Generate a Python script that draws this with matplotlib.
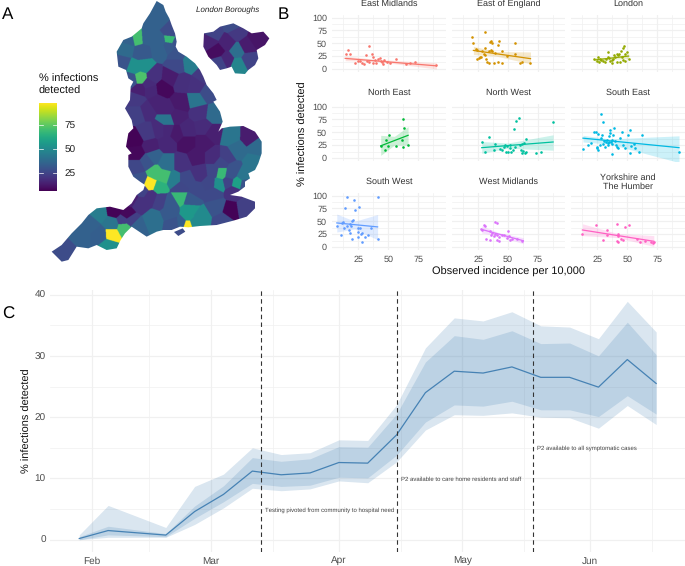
import datetime as dt

import matplotlib
matplotlib.use("Agg")
import matplotlib.pyplot as plt
import matplotlib.dates as mdates
import numpy as np
from matplotlib.patches import PathPatch
from matplotlib.path import Path

plt.rcParams["font.family"] = ["Liberation Sans", "DejaVu Sans"]
plt.rcParams["text.hinting"] = "none"
plt.rcParams["text.hinting_factor"] = 1

W, H = 685, 566

# ---- panel A, map shapes and area values
england_outline = [(470,3),(490,15),(497,35),(508,55),(515,75),(525,100),(530,125),(527,140),(535,155),(560,170),
    (585,190),(600,210),(610,230),(620,255),(640,280),(650,300),(640,305),(660,335),(668,365),(655,395),(665,385),
    (690,380),(730,378),(765,395),(785,425),(785,460),(775,490),(765,510),(745,520),(750,535),(735,545),(735,560),
    (715,575),(690,585),(725,590),(765,605),(765,625),(740,650),(700,662),(650,675),(600,678),(565,682),(540,680),
    (515,690),(490,690),(470,695),(440,710),(395,680),(375,700),(362,720),(350,745),(320,750),(290,735),(265,745),
    (230,740),(205,780),(185,785),(155,755),(185,735),(215,700),(245,670),(265,645),(290,625),(330,620),(370,630),
    (395,610),(410,585),(430,570),(435,555),(420,545),(400,530),(385,500),(385,465),(395,460),(378,440),(385,400),
    (400,385),(395,360),(375,325),(390,300),(392,260),(400,245),(385,235),(378,210),(355,200),(350,155),(370,120),
    (395,110),(425,85),(430,70),(450,40)]
wight_outline = [(522,696),(548,685),(556,695),(535,708)]
london_outline = [(612,100),(640,95),(660,80),(700,70),(730,85),(755,100),(790,95),(808,115),(795,135),(770,150),
    (775,175),(765,195),(745,210),(735,222),(705,220),(695,200),(680,205),(660,210),(650,195),(625,170),(610,140)]

area_points = [(470,60,35),(508,120,68),(510,100,28),(480,125,35),(530,130,30),(505,140,32),(412,112,70),(440,110,35),
    (385,118,35),(375,150,38),(365,190,30),(425,160,32),(480,150,35),
    (530,165,30),(570,190,45),(530,195,27),(405,205,52),(430,200,52),(420,235,72),(395,240,30),(445,255,18),(460,230,20),
    (510,235,14),(490,265,9),(450,270,17),(545,250,19),(590,260,20),(610,230,22),(620,280,28),(590,300,42),(410,300,22),
    (420,270,15),(470,310,16),(540,310,13),(500,360,42),(500,330,16),(500,390,17),(440,330,18),(410,340,24),(530,350,15),
    (560,390,17),(600,340,20),(640,345,38),(610,380,18),(530,400,13),(480,390,18),(440,400,22),(405,420,8),(410,460,9),
    (450,440,15),(500,430,17),(560,430,11),(610,430,13),(640,400,15),(690,410,42),(750,412,14),(770,440,38),(710,450,38),
    (760,490,42),(680,470,24),(640,470,18),(590,470,13),(545,490,20),(500,490,40),(460,470,35),(410,500,26),(440,485,30),
    (664,520,68),(640,515,26),(690,525,30),(664,490,26),(655,552,52),(630,550,26),(710,550,58),(735,555,30),(685,545,25),
    (730,525,42),(700,510,30),(600,520,20),(560,540,27),(490,530,70),(465,520,70),(450,552,97),(420,540,30),(425,572,25),
    (452,590,20),(478,562,65),(520,540,45),(590,570,27),(640,580,27),(700,575,20),(540,590,68),(510,608,32),(572,600,32),
    (540,565,26),(420,610,20),(480,600,24),(395,595,15),(345,632,8),(380,645,9),(295,640,45),(270,670,35),
    (390,660,24),(460,660,40),(510,640,32),(570,630,55),(600,650,50),(650,620,30),(690,632,8),(735,625,24),(670,660,27),
    (563,674,97),(582,668,50),(545,668,34),(563,650,55),(520,670,30),(410,680,35),(372,683,70),(370,660,24),(335,703,97),
    (335,672,42),(300,705,34),(325,737,52),(240,705,35),(195,750,28),(535,695,28),
    (630,125,16),(650,155,10),(680,130,16),(710,100,22),(770,120,12),(740,140,14),(712,155,40),(715,195,48),(745,180,25),
    (680,180,17),(660,190,25),(640,105,25),(700,80,28)]

colourbar_ticks = [25, 50, 75]

# ---- panel B, one pair of lists per region, plus the fitted line and its ribbon
regions = ["East Midlands", "East of England", "London", "North East", "North West", "South East",
           "South West", "West Midlands", "Yorkshire and\nThe Humber"]
region_colours = ["#F8766D", "#D39200", "#93AA00", "#00BA38", "#00C19F", "#00B9E3", "#619CFF", "#DB72FB", "#FF61C3"]

em_x = [14.4,16,18,22,24.5,26.4,27.8,30,31,32,34,36,37,37.5,39.4,41.7,43,44,44.4,45.3,46.4,51.4,56,64.7,68,72,90,34,48.6,39]
em_y = [28.6,37,30,12,16,16,11,10,27,15,13,28.6,24,11,11,19,21,16,13,9,17.5,12,19.5,10,12,14,7,45,14,17.5]
ee_x = [20,20.6,22.8,24,25.6,26.4,27.8,29.7,30.6,31,31.7,32.5,34,35,36,36.7,36,36.7,38,30.6,41.7,42.8,45,45,49,55.6,55.6,60,62,68.6,39.4,34,28.3,42,24]
ee_y = [63,51,38,37,21,24,23,28.6,41.6,27,19,14,12,53,55,50,37,34,12,71.4,47,55,35,12,25,50,28.6,11,14,11,30.5,34,34,14,19]
lo_x = [22.5,24.4,25.3,26.4,28,30,32,33.6,34,34.7,35.6,37,37.5,39,40,41,42.5,43.3,44.4,45.3,46.7,47.5,48,49.4,51.4,44,48,31.4,27,38,46,41]
lo_y = [19,15.6,24,14,17.5,15.6,19,24,33,21,16,17.5,11,27,23,14,27,29,34,24,41.6,45,28.6,32,19,14,15,14,19.5,19,17.5,29]
ne_x = [43.6,47.2,48,49.4,50.6,56,61.4,62,62.5,63,66.4]
ne_y = [23.5,15.7,35,24,45,24,35,22,76,58,25.5]
nw_x = [28.3,30.6,34.4,38.6,39.4,43.6,45,47.8,48.3,49.7,51.4,52.5,53.9,55.3,55.6,57.2,59.7,60.3,61,61.7,63,63.6,64.4,65.3,65,73.3,77.5,88,49,52,62,47]
nw_y = [31,12.4,40.5,15.7,28,17.6,15.7,25.5,12.4,12.4,19,11,15,56,22,72.5,77,25.5,15.7,27,13.7,29,9,37,12.4,10.5,11.8,69,23.5,25.5,9,22]
se_x = [13.3,17.5,19.7,22.2,23.6,24.4,25,25.3,25.8,27.2,27.8,29.4,28.6,30,30.8,31.4,32.8,33.6,34,35,35.6,35.6,36,37,37.5,38.3,39,39.7,40.3,41,42.5,45.3,46.7,48,50.8,52,52,53,55.8,56.4,59.7,62,93.3,37,32,35,28,44]
se_y = [17.6,25.5,29,51,50,22,19,46,15.7,25.5,86,70,45,27,32,22,35,29,25.5,42,55,48,31,7,35,45,58,32,25.5,22,19,50,25.5,19,45,55,10.5,24,27,19,12.4,44,11.8,27,31,31,38.5,38.5]
sw_x = [7.2,10.3,11.7,12.8,14,15.3,15.8,17.2,18,18.3,19,19.4,20,21.4,22,24.4,24.4,25,25.6,26.4,27.2,28.3,30.6,32.8,35.6,41,41,12.5,20.3,28.3]
sw_y = [40,23,47,36,75,97,41,32,28,45,40,16,51,92,71,37,20,28.6,77,37,26,9,19,24,37,97,15,48.7,53,27]
wm_x = [27.8,30,31,31.7,35.3,36,37,39.4,40.8,38,39.4,40.8,42.2,42.8,45,47,49,50,51,52,53.3,57.5,61.9,28.3,35.3,41]
wm_y = [34,43.5,41,16,14,23,27,48.7,47,21,26,24,19,12,24,24,17.5,30.5,21,14,16,16,12,32,30.5,14]
yh_x = [12.5,23.6,32.8,29.4,33.3,41,42,41,42.5,44.4,46.7,48,51.4,57.8,60.6,64.7,70,71.7,72,42]
yh_y = [25,43.5,33,14,24,45.5,21,11,10,16,14,39,43.5,15.6,10,12,10,8,9,25]
region_x = [em_x, ee_x, lo_x, ne_x, nw_x, se_x, sw_x, wm_x, yh_x]
region_y = [em_y, ee_y, lo_y, ne_y, nw_y, se_y, sw_y, wm_y, yh_y]

fit_x = [[14,40,90],[21,40,69],[23,37,51],[43.6,55,66.4],[28,50,88],[13,35,93],[7,22,41],[28,42,63],[12.5,42,72]]
fit_y = [[20.5,16.5,6],[36,29.5,20],[17.5,21,25],[23.5,33.5,44],[20,24,31],[38.5,32,20],[46.7,43,39],[34,25,12],[33,22,11]]
fit_lo = [[16,14.5,0],[28,25,10],[13,19,20],[5,25,25],[9,19,15],[31,27,-9],[29,35,14],[27,22,6],[22,18,1]]
fit_hi = [[25,18.5,12],[44,34,33],[22,23,30],[44,42,61],[32,29,45],[44,37,43],[64,50,63],[41,28,18],[45,26,22]]

# ---- panel C
week_dates = ["2020-01-29","2020-02-05","2020-02-19","2020-02-26","2020-03-04","2020-03-11","2020-03-18","2020-03-25",
              "2020-04-01","2020-04-08","2020-04-15","2020-04-22","2020-04-29","2020-05-06","2020-05-13","2020-05-20",
              "2020-05-27","2020-06-03","2020-06-10","2020-06-17"]
detected = [0.2,1.5,0.76,4.6,7.4,11.2,10.6,10.9,12.6,12.5,17.1,24,27.5,27.2,28.2,26.5,26.5,24.9,29.4,25.5]
inner_hi = [0.5,2.2,1,5.5,8.8,13.4,12.8,13.2,15.2,15.1,20.5,29,33.3,32.7,34.1,32,32.1,30,35.5,30.2]
inner_lo = [0,0.8,0.5,3.5,6.2,9.2,8.7,8.9,10.2,10.1,13.8,19.2,22,21.8,22.6,21.2,21.2,20.1,23.5,20.5]
outer_hi = [0.8,5.6,2,8.7,10.7,15,13.9,14.2,16.3,16.2,22,31.3,36.2,35.7,37.2,34.9,34.7,32.8,38.9,33.9]
outer_lo = [0,0.4,0.4,2.5,5.2,8.4,8,8.3,9.6,9.3,12.7,17.9,20.4,20.3,20.7,20,19.9,18.2,21.9,18.8]
event_dates = ["2020-03-13","2020-04-15","2020-05-18"]
event_labels = ["Testing pivoted from community to hospital need", "P2 available to care home residents and staff",
                "P2 available to all symptomatic cases"]
event_label_y = [4.8, 9.9, 14.9]
month_ticks = ["2020-02-01","2020-03-01","2020-04-01","2020-05-01","2020-06-01"]
month_labels = ["Feb","Mar","Apr","May","Jun"]
mid_month_ticks = ["2020-02-15","2020-03-16","2020-04-16","2020-05-16","2020-06-16"]


def day(s):
    return mdates.date2num(dt.date.fromisoformat(s))


def px_axes(left, top, right, bottom):
    # axes given in pixels of the reference, top left origin
    return fig.add_axes([left / W, 1 - bottom / H, (right - left) / W, (bottom - top) / H])


fig = plt.figure(figsize=(W / 100, H / 100), dpi=100)
TICK_COL = "#4D4D4D"
GRID = "#F0F0F0"

# ---- A map
ax = px_axes(0, 0, 270, 270)
ax.set_xlim(0, 810)
ax.set_ylim(810, 0)
ax.axis("off")
sx, sy, sv = [np.array(v, float) for v in zip(*area_points)]
gx, gy = np.meshgrid(np.arange(0, 810, 1.0), np.arange(0, 810, 1.0))
nearest = np.argmin((gx[..., None] - sx) ** 2 + (gy[..., None] - sy) ** 2, axis=2)
im = ax.imshow(sv[nearest], extent=(0, 810, 810, 0), cmap="viridis", vmin=7, vmax=97, interpolation="antialiased")
verts, codes = [], []
for shape in [england_outline, wight_outline, london_outline]:
    verts += shape + [shape[0]]
    codes += [Path.MOVETO] + [Path.LINETO] * (len(shape) - 1) + [Path.CLOSEPOLY]
outline = PathPatch(Path(verts, codes), fc="none", ec="none", transform=ax.transData)
ax.add_patch(outline)
im.set_clip_path(outline)
ax.set_xlim(0, 810)
ax.set_ylim(810, 0)
ax.text(682, 32, "London Boroughs", style="italic", fontsize=6, color="#222222", ha="center", va="center")

cax = px_axes(39, 103, 57, 191)
cax.imshow(np.linspace(97, 7, 256)[:, None], extent=(0, 1, 7, 97), aspect="auto", cmap="viridis", vmin=7, vmax=97)
cax.set_xticks([])
cax.set_yticks(colourbar_ticks)
cax.yaxis.tick_right()
cax.tick_params(axis="y", length=0, labelsize=7.2, pad=5.5, labelcolor="#222222")
for v in colourbar_ticks:
    cax.plot([0, 0.2], [v, v], color="white", lw=0.5)
    cax.plot([0.8, 1], [v, v], color="white", lw=0.5)
cax.set_xlim(0, 1)
for s in cax.spines.values():
    s.set_visible(False)
fig.text(39 / W, 1 - 74 / H, "% infections\ndetected", fontsize=8, va="top", ha="left", color="#111111", linespacing=1.2)

# ---- B facets
col_left = [332, 452, 571]
col_right = [446, 565, 685]
row_top = [15, 104, 193]
row_bottom = [72, 161, 250]
for i, name in enumerate(regions):
    r, c = i // 3, i % 3
    a = px_axes(col_left[c], row_top[r], col_right[c], row_bottom[r])
    a.set_xlim(3, 98)
    a.set_ylim(-6, 105)
    a.set_xticks([25, 50, 75])
    a.set_xticks([12.5, 37.5, 62.5, 87.5], minor=True)
    a.set_yticks([0, 25, 50, 75, 100])
    a.set_yticks([12.5, 37.5, 62.5, 87.5], minor=True)
    a.grid(which="major", color=GRID, lw=0.9)
    a.grid(which="minor", color=GRID, lw=0.5)
    a.set_axisbelow(True)
    a.tick_params(which="both", length=0, labelsize=6.5, labelcolor=TICK_COL, pad=4,
                  labelbottom=r == 2, labelleft=c == 0)
    a.tick_params(axis="y", pad=3.5)
    for s in a.spines.values():
        s.set_visible(False)
    col = region_colours[i]
    a.fill_between(fit_x[i], fit_lo[i], fit_hi[i], color=col, alpha=0.2, lw=0, clip_on=True)
    a.plot([fit_x[i][0], fit_x[i][-1]], [fit_y[i][0], fit_y[i][-1]], color=col, lw=0.9)
    a.scatter(region_x[i], region_y[i], s=3.5, color=col, lw=0, zorder=3)
    title_y = 1 + (11.2 if r else 11) / (row_bottom[r] - row_top[r])
    a.text(0.5, title_y, name, transform=a.transAxes, ha="center", va="center", fontsize=6.5,
           color="#333333", linespacing=1.15)

fig.text(508 / W, 1 - 272 / H, "Observed incidence per 10,000", fontsize=8.2, ha="center", va="center", color="#111111")
fig.text(303 / W, 1 - 134 / H, "% infections detected", fontsize=8.2, rotation=90, ha="center", va="center", color="#111111")

# ---- C time series
axc = px_axes(50, 290, 685, 552)
feb1 = day("2020-02-01")
axc.set_xlim(feb1 - 10.1, feb1 + 144)
axc.set_ylim(-2, 40.75)
t = [day(d) for d in week_dates]
axc.fill_between(t, outer_lo, outer_hi, color="#4682B4", alpha=0.2, lw=0)
axc.fill_between(t, inner_lo, inner_hi, color="#4682B4", alpha=0.2, lw=0)
axc.plot(t, detected, color="#4682B4", lw=0.9)
for d, lab, y in zip(event_dates, event_labels, event_label_y):
    axc.axvline(day(d), color="#333333", lw=0.8, ls=(0, (4, 3)))
    axc.text(day(d) + 1.1, y, lab, fontsize=4.2, color="#444444", va="center", ha="left")
axc.set_xticks([day(d) for d in month_ticks])
axc.set_xticklabels(month_labels)
axc.set_xticks([day(d) for d in mid_month_ticks], minor=True)
axc.set_yticks([0, 10, 20, 30, 40])
axc.set_yticks([5, 15, 25, 35], minor=True)
axc.grid(which="major", color=GRID, lw=0.9)
axc.grid(which="minor", color=GRID, lw=0.5)
axc.set_axisbelow(True)
axc.tick_params(which="both", length=0, labelsize=7, labelcolor=TICK_COL, pad=3)
for s in axc.spines.values():
    s.set_visible(False)
fig.text(27 / W, 1 - 421 / H, "% infections detected", fontsize=8.2, rotation=90, ha="center", va="center", color="#111111")

# panel letters
fig.text(2 / W, 1 - 15 / H, "A", fontsize=12, va="center", ha="left")
fig.text(278 / W, 1 - 15 / H, "B", fontsize=12, va="center", ha="left")
fig.text(2 / W, 1 - 314 / H, "C", fontsize=12, va="center", ha="left")

fig.savefig("out.png", dpi=100)
